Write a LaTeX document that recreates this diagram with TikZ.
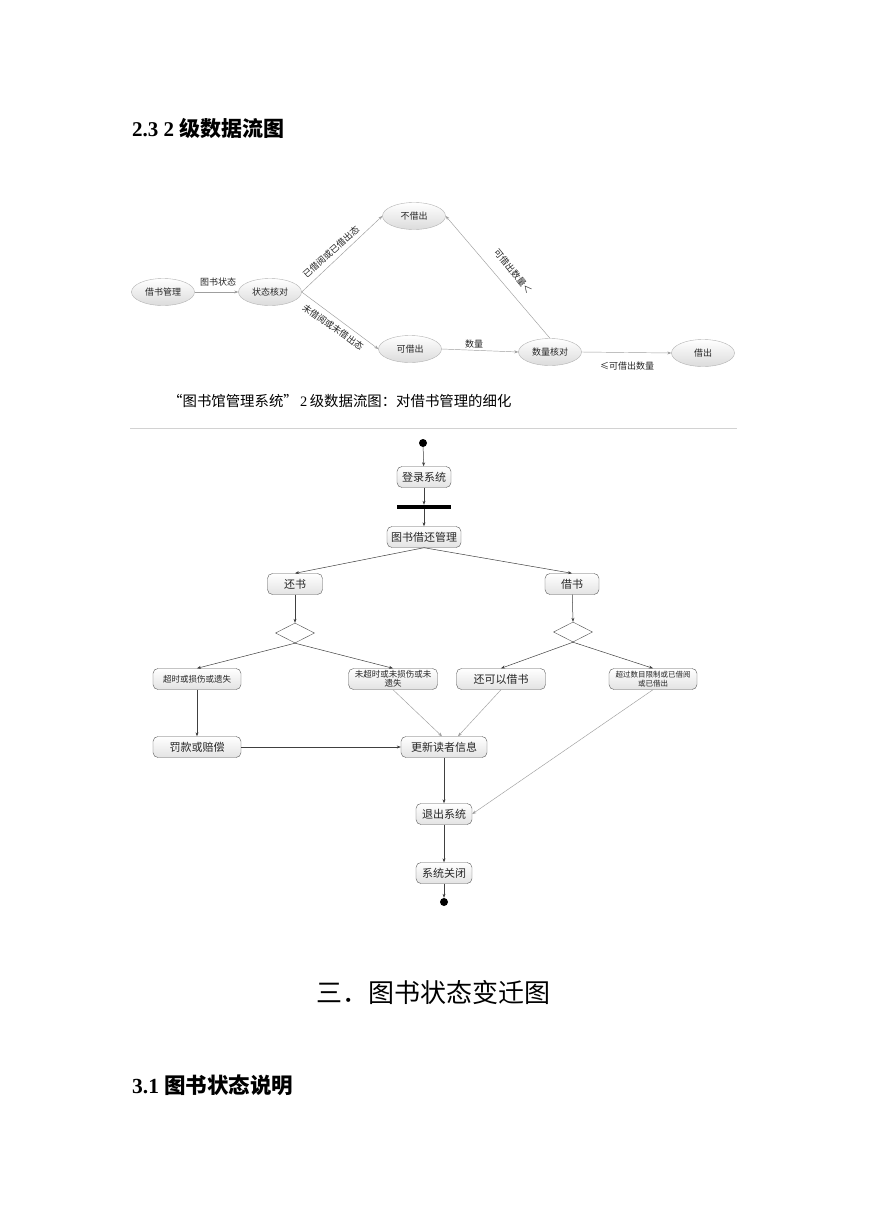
\documentclass[tikz,border=0pt]{standalone}
\usepackage{fontspec}
\setmainfont{Liberation Serif}
\newfontfamily\cjk{Noto Sans CJK SC}
\usetikzlibrary{shapes.geometric,arrows.meta}
\tikzset{
  ell/.style={ellipse, draw=gray!60, top color=white, bottom color=gray!28, minimum width=63pt, minimum height=27pt, inner sep=0pt, font=\cjk\fontsize{9}{9}\selectfont, text=black!85},
  act/.style={rectangle, rounded corners=5pt, draw=black!65, top color=white, bottom color=gray!22, inner sep=0pt, minimum height=21pt, font=\cjk\fontsize{11}{11}\selectfont, text=black!85},
  lbl/.style={font=\cjk\fontsize{9}{9}\selectfont, inner sep=0pt, text=black!85},
  arr/.style={-{Stealth[length=4pt,width=3pt]}, draw=black!75, line width=0.5pt},
  garr/.style={-{Stealth[length=4pt,width=3pt]}, draw=gray!75, line width=0.45pt},
  dia/.style={diamond, draw=black!70, fill=white, aspect=2, minimum width=39pt, minimum height=20pt, inner sep=0pt},
  dot/.style={circle, fill=black, minimum size=8pt, inner sep=0pt},
  barnode/.style={rectangle, fill=black, minimum width=54pt, minimum height=4pt, inner sep=0pt}
}
\begin{document}
\begin{tikzpicture}[x=1pt,y=-1pt]
\useasboundingbox (0,0) rectangle (869,1228);
\fill[white] (0,0) rectangle (869,1228);

% headings
\node[anchor=west, inner sep=0pt] (h23) at (132,128) {\fontsize{21}{21}\selectfont\bfseries 2.3 2 {\cjk 级数据流图}};
\node[anchor=west, inner sep=0pt] (cap) at (168,401) {\cjk\fontsize{14.4}{14.4}\selectfont “图书馆管理系统”{\rmfamily\,2\,}级数据流图：对借书管理的细化};
\node[inner sep=0pt] (h3) at (433,993) {\cjk\fontsize{26}{26}\selectfont 三．图书状态变迁图};
\node[anchor=west, inner sep=0pt] (h31) at (132,1085) {\fontsize{21.5}{21.5}\selectfont\bfseries 3.1 {\cjk 图书状态说明}};

\draw[gray!35, line width=0.8pt] (130,428) -- (737,428);

% ---------- top data flow diagram ----------
\node[ell] (jm) at (163,292) {借书管理};
\node[ell] (zt) at (270,292) {状态核对};
\node[ell] (bj) at (414,216) {不借出};
\node[ell] (kj) at (410,349) {可借出};
\node[ell] (sl) at (550,352) {数量核对};
\node[ell] (jc) at (703,353) {借出};

\draw[garr] (jm) -- (zt);
\draw[garr] (zt.east) -- (bj.west);
\draw[garr] (zt.east) -- (kj.west);
\draw[garr] (kj.east) -- (sl.west);
\draw[garr] (sl.north) -- (bj.east);
\draw[garr] (sl.east) -- (jc.west);

\node[lbl] (l1) at (218,282) {图书状态};
\node[lbl, rotate=42] (l2) at (331,252) {已借阅或已借出态};
\node[lbl, rotate=-35] (l3) at (333,327) {未借阅或未借出态};
\node[lbl] (l4) at (474,344) {数量};
\node[lbl, rotate=-51] (l5) at (513,271) {可借出数量＜};
\node[lbl] (l6) at (627,366) {≤可借出数量};

% ---------- activity diagram ----------
\node[dot] (start) at (423,443) {};
\node[act, minimum width=54pt] (login) at (424,477) {登录系统};
\node[barnode] (bar) at (424,507) {};
\node[act, minimum width=74pt] (mgmt) at (424,537) {图书借还管理};
\node[act, minimum width=55pt] (ret) at (295,584) {还书};
\node[act, minimum width=54pt] (bor) at (572,584) {借书};
\node[dia] (dL) at (295,633) {};
\node[dia] (dR) at (573,632) {};
\node[act, minimum width=88pt, font=\cjk\fontsize{8.5}{8.5}\selectfont] (late) at (197,679) {超时或损伤或遗失};
\node[act, minimum width=89pt, align=center, font=\cjk\fontsize{8.5}{9.5}\selectfont] (ok) at (393,679) {未超时或未损伤或未\\遗失};
\node[act, minimum width=89pt] (can) at (501,679) {还可以借书};
\node[act, minimum width=88pt, align=center, font=\cjk\fontsize{7.5}{9}\selectfont] (over) at (653,679) {超过数目限制或已借阅\\或已借出};
\node[act, minimum width=88pt] (fine) at (197,747) {罚款或赔偿};
\node[act, minimum width=86pt] (upd) at (444,747) {更新读者信息};
\node[act, minimum width=56pt] (exit) at (444,814) {退出系统};
\node[act, minimum width=56pt] (close) at (444,873) {系统关闭};
\node[dot] (end) at (444,902) {};

\draw[arr] (start) -- (login);
\draw[arr] (login) -- (bar);
\draw[arr] (bar) -- (mgmt);
\draw[arr] (mgmt.south) -- (ret.north);
\draw[arr] (mgmt.south) -- (bor.north);
\draw[arr] (ret) -- (dL.north);
\draw[arr] (bor) -- (dR.north);
\draw[arr] (dL.south) -- (late.north);
\draw[arr] (dL.south) -- (ok.north);
\draw[arr] (dR.south) -- (can.north);
\draw[arr] (dR.south) -- (over.north);
\draw[arr] (late) -- (fine);
\draw[arr] (fine) -- (upd);
\draw[garr] (ok.south) -- ([xshift=-2pt]upd.north);
\draw[garr] (can.south) -- ([xshift=14pt]upd.north);
\draw[garr] (over.south) -- (exit.east);
\draw[arr] (upd) -- (exit);
\draw[arr] (exit) -- (close);
\draw[arr] (close) -- (end);
\end{tikzpicture}
\end{document}
